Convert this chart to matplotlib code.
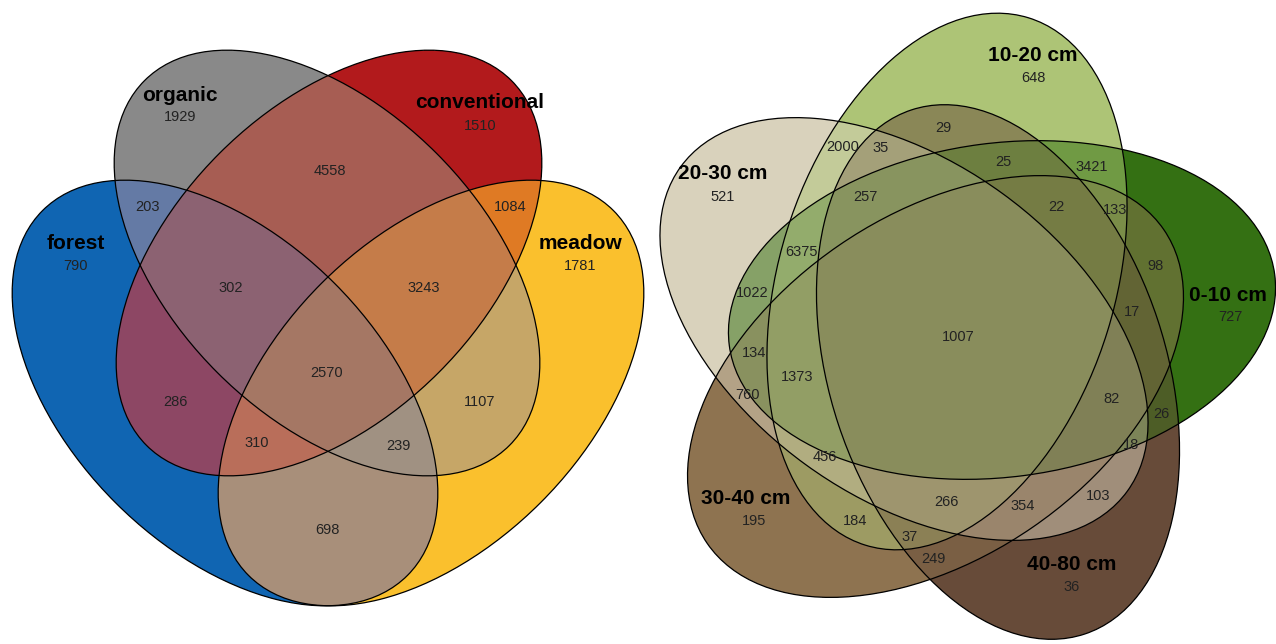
import numpy as np
import matplotlib
matplotlib.use("Agg")
import matplotlib.pyplot as plt
from matplotlib.patches import Ellipse

W, H = 1276, 644

# ---- left: 4 habitats ----
left_sets = ["forest", "organic", "conventional", "meadow"]
left_codes = ["F", "O", "C", "M", "FO", "OC", "CM", "FOC", "OCM", "FOCM", "FC", "OM", "FCM", "FOM", "FM"]
left_counts = [790, 1929, 1510, 1781, 203, 4558, 1084, 302, 3243, 2570, 286, 1107, 310, 239, 698]
left_colors = ["#1065b2", "#898989", "#b21a1c", "#fac02d", "#647aa5", "#a75d53", "#df7a24",
               "#8c6272", "#c57c49", "#a57764", "#8d4764", "#c6a667", "#b96e5a", "#a09182", "#a88f7a"]
left_xy = [(76, 266), (180, 117), (480, 126), (580, 266), (147, 207), (330, 171), (510, 207),
           (231, 288), (424, 288), (327, 373), (175, 402), (480, 402), (257, 443), (398, 446), (327, 530)]
left_name_xy = [(76, 243), (180, 95), (480, 102), (580, 243)]

# ---- right: 5 soil depths ----
right_sets = ["0-10 cm", "10-20 cm", "20-30 cm", "30-40 cm", "40-80 cm"]
right_colors = ["#347013", "#adc476", "#d9d2bc", "#8e7350", "#674b39"]
right_single = [727, 648, 521, 195, 36]
right_single_xy = [(1230, 317), (1033, 78), (723, 197), (754, 521), (1072, 587)]
right_name_xy = [(1228, 295), (1033, 55), (723, 173), (746, 498), (1072, 565)]
right_counts = [29, 2000, 35, 25, 3421, 257, 22, 133, 6375, 98, 1022, 17, 1007, 134, 1373,
                760, 82, 26, 18, 456, 266, 354, 103, 184, 37, 249]
right_xy = [(943, 128), (843, 147), (881, 148), (1003, 162), (1092, 167), (865, 197), (1056, 207),
            (1115, 210), (801, 252), (1155, 266), (752, 293), (1132, 312), (958, 337), (754, 353),
            (797, 377), (748, 395), (1112, 399), (1161, 414), (1131, 445), (825, 457), (946, 502),
            (1023, 506), (1098, 496), (855, 521), (910, 537), (933, 559)]

# shapes: (cx, cy, a, b, angle)
left_shapes = [(225, 393, 258, 155, 45), (327, 263, 258, 155, 45),
               (329, 263, 258, 155, -45), (431, 393, 258, 155, -45)]
right_shapes = [(1002, 310, 275, 167, -7.4), (947, 281.5, 276, 168, -72.8),
                (904, 329, 276, 167.5, 36.0), (935.5, 386.5, 277, 171, -34.5),
                (998, 372, 276, 168, 71.7)]


def inside(shape, xx, yy):
    cx, cy, a, b, ang = shape
    t = np.deg2rad(ang)
    dx, dy = xx - cx, yy - cy
    u = dx * np.cos(t) + dy * np.sin(t)
    v = -dx * np.sin(t) + dy * np.cos(t)
    return (u / a) ** 2 + (v / b) ** 2 <= 1


def hex2rgb(h):
    return np.array([int(h[i:i + 2], 16) for i in (1, 3, 5)]) / 255.0


# supersampled pixel grid
ss = 2
xs = (np.arange(W * ss) + 0.5) / ss
ys = (np.arange(H * ss) + 0.5) / ss
xx, yy = np.meshgrid(xs, ys)
img = np.ones((H * ss, W * ss, 3))

# left fill, one colour per region
lmask = [inside(s, xx, yy) for s in left_shapes]
initials = "FOCM"
lcode = np.zeros(xx.shape, dtype=int)
for i, m in enumerate(lmask):
    lcode += m.astype(int) << i
for code, col in zip(left_codes, left_colors):
    n = sum(1 << initials.index(ch) for ch in code)
    img[lcode == n] = hex2rgb(col)

# right fill, mean of member colours
rmask = np.array([inside(s, xx, yy) for s in right_shapes]).astype(float)
rcols = np.array([hex2rgb(c) for c in right_colors])
cnt = rmask.sum(axis=0)
acc = np.tensordot(rmask, rcols, axes=(0, 0))
sel = cnt > 0
img[sel] = acc[sel] / cnt[sel][:, None]

img = img.reshape(H, ss, W, ss, 3).mean(axis=(1, 3))

fig = plt.figure(figsize=(W / 100, H / 100), dpi=100)
ax = fig.add_axes([0, 0, 1, 1])
ax.imshow(img, extent=(0, W, H, 0), interpolation="nearest")
for s in left_shapes + right_shapes:
    ax.add_patch(Ellipse((s[0], s[1]), 2 * s[2], 2 * s[3], angle=s[4],
                         fill=False, edgecolor="black", linewidth=0.9))

font = "Liberation Sans"
numc = "#222222"
for name, (x, y) in zip(left_sets, left_name_xy):
    ax.text(x, y, name, ha="center", va="center", fontsize=15, fontweight="bold", family=font)
for n, (x, y) in zip(left_counts, left_xy):
    ax.text(x, y, str(n), ha="center", va="center", fontsize=10.5, color=numc, family=font)
for name, (x, y) in zip(right_sets, right_name_xy):
    ax.text(x, y, name, ha="center", va="center", fontsize=15, fontweight="bold", family=font)
for n, (x, y) in zip(right_single, right_single_xy):
    ax.text(x, y, str(n), ha="center", va="center", fontsize=10.5, color=numc, family=font)
for n, (x, y) in zip(right_counts, right_xy):
    ax.text(x, y, str(n), ha="center", va="center", fontsize=10.5, color=numc, family=font)

ax.set_xlim(0, W)
ax.set_ylim(H, 0)
ax.axis("off")
fig.savefig("out.png", dpi=100)
